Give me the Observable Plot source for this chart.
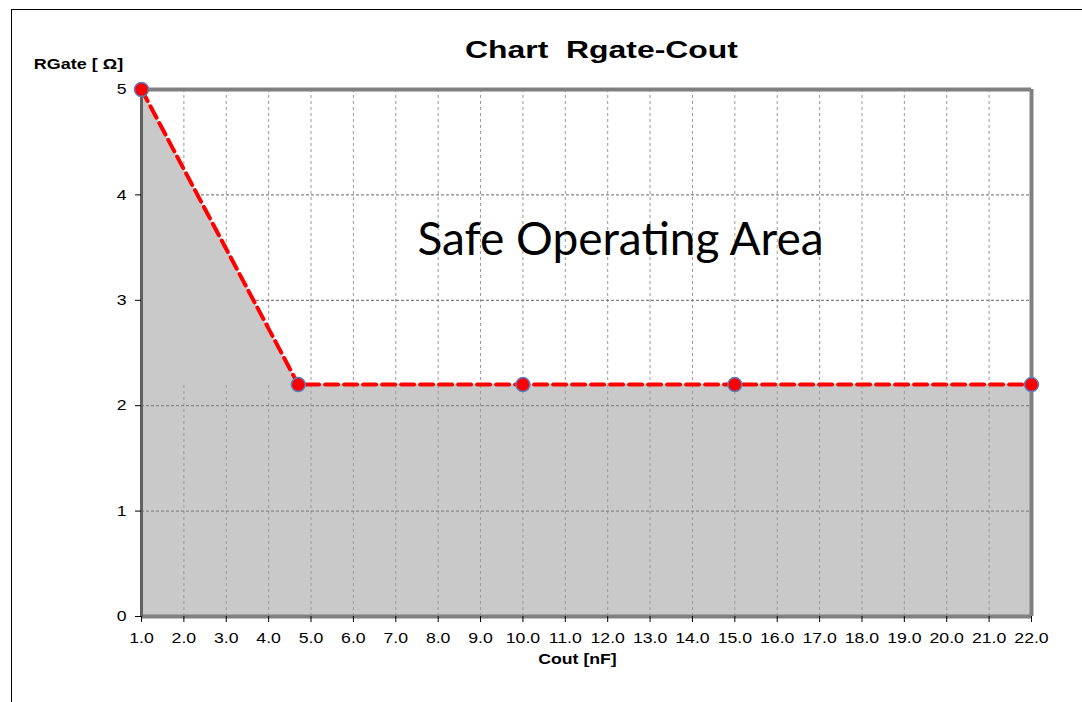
<!DOCTYPE html>
<html>
<head>
<meta charset="utf-8">
<script src="https://cdn.jsdelivr.net/npm/d3@7"></script>
<script src="https://cdn.jsdelivr.net/npm/@observablehq/plot@0.6"></script>
<style>
  html, body { margin: 0; padding: 0; background: #fff; }
  #wrap { position: relative; width: 1082px; height: 702px; overflow: hidden; }
  #frame { position: absolute; left: 11px; top: 9px; right: -5px; bottom: -5px; border-left: 1.5px solid #000; border-top: 1.5px solid #000; pointer-events: none; }
  #chart { position: absolute; left: 0; top: 0; }
</style>
</head>
<body>
<div id="wrap"><div id="chart"></div><div id="frame"></div></div>
<script>
const cout = [1.0, 4.7, 10.0, 15.0, 22.0];
const rgate = [5.0, 2.2, 2.2, 2.2, 2.2];
const xTicks = d3.range(1, 23);
const yTicks = [0, 1, 2, 3, 4, 5];
const yGrid = [1, 2, 3, 4];
const titleText = "Chart  Rgate-Cout";
const xLabel = "Cout [nF]";
const yLabel = "RGate [ Ω]";
const areaLabel = "Safe Operating Area";

const data = cout.map((c, i) => ({cout: c, rgate: rgate[i]}));
const font = "Liberation Sans, Arial, sans-serif";

const chart = Plot.plot({
  width: 1082,
  height: 702,
  marginLeft: 141,
  marginRight: 51,
  marginTop: 89,
  marginBottom: 86,
  style: {fontFamily: font, fontSize: "14.5px", color: "#000", background: "transparent"},
  x: {domain: [1, 22], label: null},
  y: {domain: [0, 5], label: null},
  marks: [
    Plot.ruleX(xTicks.slice(1, -1), {stroke: "#999", strokeWidth: 1, strokeDasharray: "3,3"}),
    Plot.ruleY(yGrid, {stroke: "#666", strokeWidth: 1, strokeDasharray: "3,2"}),
    Plot.areaY(data, {x: "cout", y: "rgate", fill: "#c9c9c9"}),
    Plot.ruleX(xTicks.slice(1, -1), {y1: 0, y2: 2.2, stroke: "#9a9a9a", strokeWidth: 1, strokeDasharray: "3,3"}),
    Plot.ruleY(yGrid.filter(v => v < 2.2), {stroke: "#777", strokeWidth: 1, strokeDasharray: "3,2"}),
    Plot.ruleY([5], {stroke: "#808080", strokeWidth: 4}),
    Plot.ruleX([22], {stroke: "#808080", strokeWidth: 4}),
    Plot.ruleY([0], {stroke: "#808080", strokeWidth: 4}),
    Plot.ruleX([1], {stroke: "#606060", strokeWidth: 3}),
    Plot.axisX({ticks: xTicks, tickFormat: d => d.toFixed(1), tickSize: 6, tickPadding: 10, label: null, fill: "#000"}),
    Plot.axisY({ticks: yTicks, tickFormat: d => String(d), tickSize: 6, tickPadding: 9, label: null, fill: "#000"}),
    Plot.line(data, {x: "cout", y: "rgate", stroke: "#ff0000", strokeWidth: 4, strokeDasharray: "13,6"}),
    Plot.dot(data, {x: "cout", y: "rgate", r: 7, fill: "#ff0000", stroke: "#5a7fbe", strokeWidth: 1.5}),
    Plot.text([titleText], {frameAnchor: "top", dx: 15, dy: -49, fontSize: 24, fontWeight: "bold", fill: "#000"}),
    Plot.text([yLabel], {frameAnchor: "top-left", dx: -63, dy: -31, textAnchor: "middle", fontSize: 14.5, fontWeight: "bold", fill: "#000"}),
    Plot.text([xLabel], {frameAnchor: "bottom", dx: -9, dy: 47, fontSize: 14.5, fontWeight: "bold", fill: "#000"}),
    Plot.text([areaLabel], {frameAnchor: "top", dx: 34, dy: 133, fontSize: 46, fontFamily: "Lato, sans-serif", fill: "#000"})
  ]
});
document.getElementById("chart").appendChild(chart);

// horizontal stretch of the Excel-like text (scale about each text's anchor)
function stretchText(t, s) {
  const x = parseFloat(t.getAttribute("x")) || 0;
  const tr = t.getAttribute("transform") || "";
  t.setAttribute("transform", `${tr} translate(${x},0) scale(${s},1) translate(${-x},0)`.trim());
}
chart.querySelectorAll('g[aria-label="x-axis tick label"] text').forEach(t => stretchText(t, 1.22));
chart.querySelectorAll('g[aria-label="y-axis tick label"] text').forEach(t => stretchText(t, 1.22));
const factors = new Map([[titleText, 1.33], [yLabel, 1.24], [xLabel, 1.22]]);
chart.querySelectorAll("text").forEach(t => {
  const f = factors.get(t.textContent);
  if (f) stretchText(t, f);
});
</script>
</body>
</html>
